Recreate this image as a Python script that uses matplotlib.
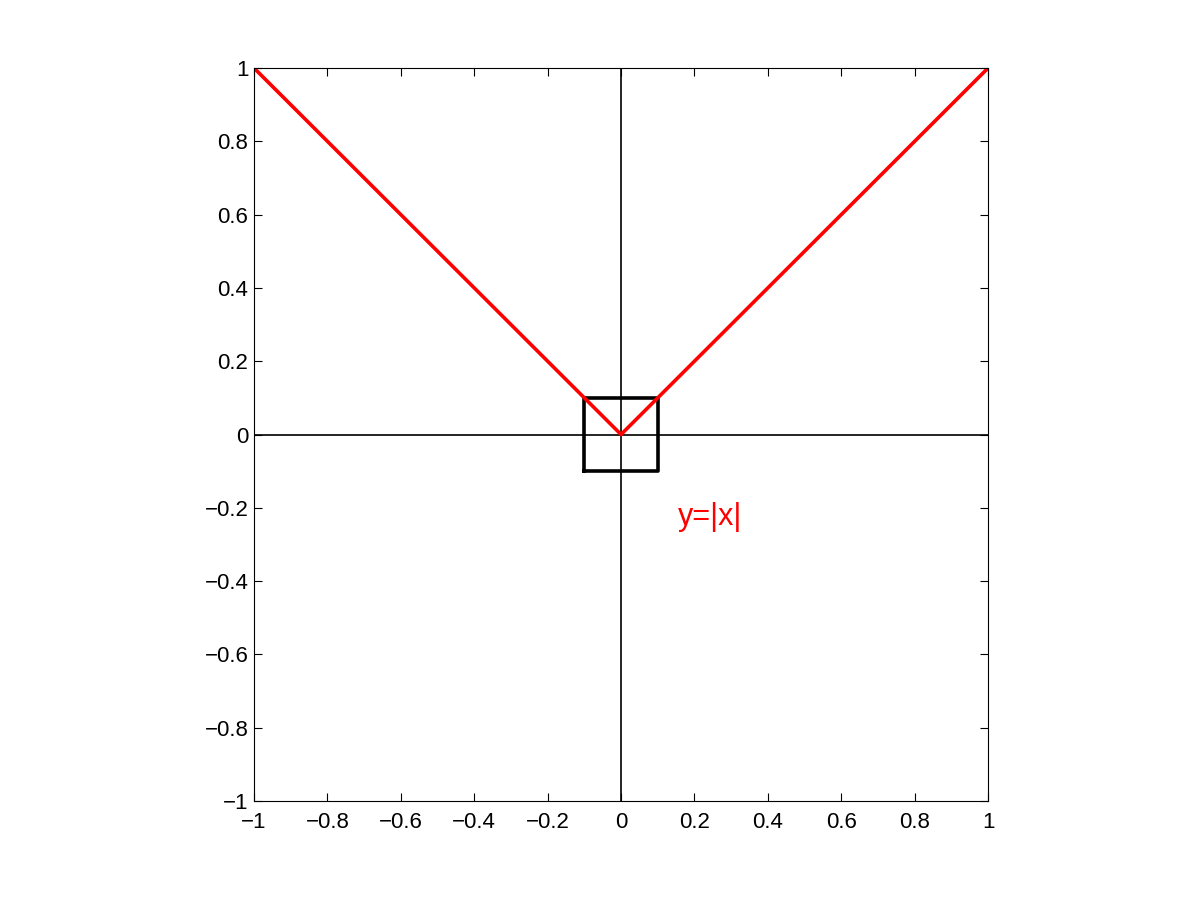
import numpy as np
import matplotlib
matplotlib.use("Agg")
import matplotlib.pyplot as plt

plt.rcParams['font.family'] = ['Liberation Sans', 'DejaVu Sans']

# datos
x_v = [-1.0, 0.0, 1.0]
y_v = [1.0, 0.0, 1.0]
cuadro_x = [-0.1, 0.1, 0.1, -0.1, -0.1]
cuadro_y = [-0.1, -0.1, 0.1, 0.1, -0.1]
ticks = [-1, -0.8, -0.6, -0.4, -0.2, 0, 0.2, 0.4, 0.6, 0.8, 1]
tick_labels = ['\u22121', '\u22120.8', '\u22120.6', '\u22120.4', '\u22120.2', '0',
               '0.2', '0.4', '0.6', '0.8', '1']

fig = plt.figure(figsize=(12.01, 9.01), dpi=100)
ax = fig.add_axes([0.2115, 0.111, 0.6112, 0.8135])

# ejes cartesianos
ax.plot([-1, 1], [0, 0], color='k', lw=1.2)
ax.plot([0, 0], [-1, 1], color='k', lw=1.2)
# cuadro
ax.plot(cuadro_x, cuadro_y, color='k', lw=2.6)
# funcion
ax.plot(x_v, y_v, color='#ff0000', lw=2.6)
ax.text(0.155, -0.225, 'y=|x|', color='#ff0000', fontsize=22, va='center', ha='left')

ax.set_xlim(-1, 1)
ax.set_ylim(-1, 1)
ax.set_xticks(ticks)
ax.set_yticks(ticks)
ax.set_xticklabels(tick_labels)
ax.set_yticklabels(tick_labels)
ax.tick_params(direction='in', top=True, right=True, labelsize=16, length=6, width=0.8)
ax.tick_params(axis='x', pad=8)
ax.tick_params(axis='y', pad=4)
for s in ax.spines.values():
    s.set_linewidth(0.8)

plt.savefig('out.png', dpi=100)
